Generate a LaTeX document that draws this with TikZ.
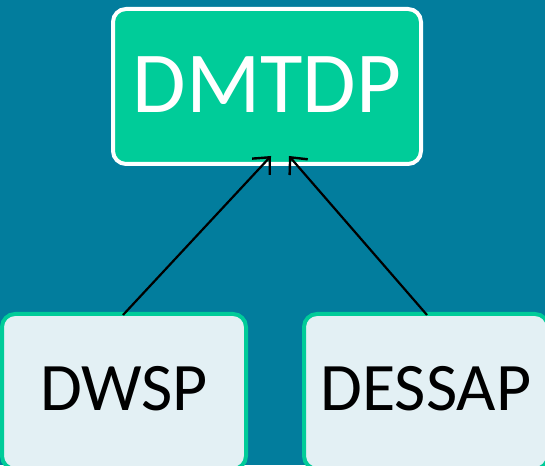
\documentclass[tikz,border=0pt]{standalone}
\usepackage{fontspec}
\setmainfont{Carlito}
\usetikzlibrary{arrows.meta}
\definecolor{bgteal}{RGB}{2,125,157}
\definecolor{topgreen}{RGB}{0,204,153}
\definecolor{lightfill}{RGB}{227,240,244}
\tikzset{
  topbox/.style={draw=white, fill=topgreen, line width=4pt, rounded corners=13pt,
    minimum width=308pt, minimum height=155pt, inner sep=0pt, text=white,
    font=\fontsize{87}{87}\selectfont},
  lowbox/.style={draw=topgreen, fill=lightfill, line width=4pt, rounded corners=13pt,
    minimum width=244pt, minimum height=155pt, inner sep=0pt, text=black,
    font=\fontsize{68}{68}\selectfont},
  link/.style={draw=black, line width=2.2pt, -{Straight Barb[length=13pt,width=24pt,line width=2.4pt]}}
}
\begin{document}
\begin{tikzpicture}[x=1pt,y=1pt]
\useasboundingbox (0,0) rectangle (545,465);
\clip (0,0) rectangle (545,465);
\fill[bgteal] (0,0) rectangle (545,465);
\node[topbox] (dmtdp) at (267,378.5) {\raisebox{3pt}{DMTDP}};
\node[lowbox] (dwsp) at (124,73.5) {\raisebox{6pt}{DWSP}};
\node[lowbox] (dessap) at (426,73.5) {\raisebox{6pt}{DESSAP}};
\draw[link] ([xshift=-1pt,yshift=-3pt]dwsp.north) -- ([xshift=4pt,yshift=10pt]dmtdp.south);
\draw[link] ([xshift=1pt,yshift=-3pt]dessap.north) -- ([xshift=22pt,yshift=10pt]dmtdp.south);
\end{tikzpicture}
\end{document}
